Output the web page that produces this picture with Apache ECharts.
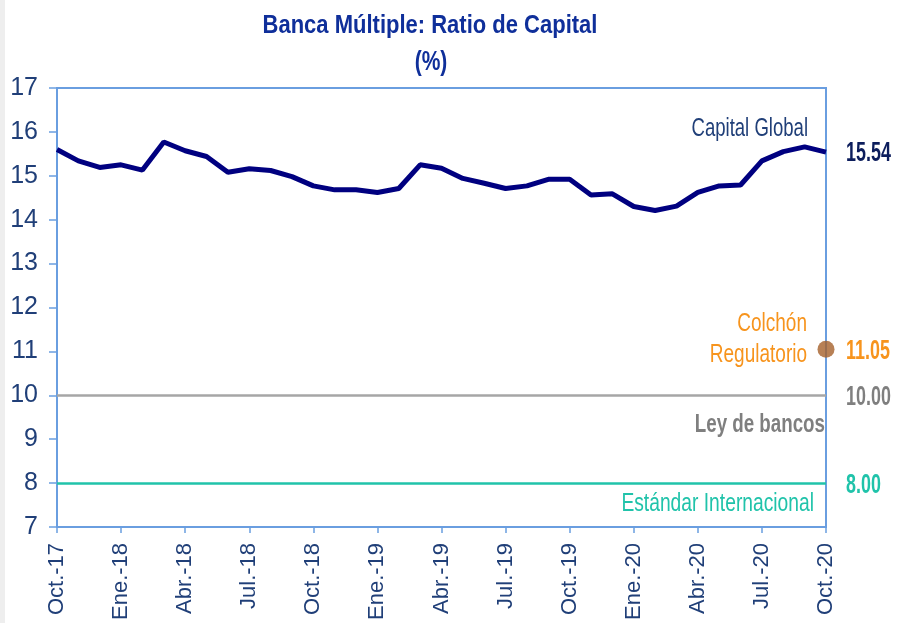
<!DOCTYPE html>
<html>
<head>
<meta charset="utf-8">
<script src="https://cdn.jsdelivr.net/npm/echarts@6/dist/echarts.min.js"></script>
<style>
html,body{margin:0;padding:0;background:#fff;}
#c{width:897px;height:623px;}
</style>
</head>
<body>
<div id="c"></div>
<script>
const categories = ['Oct.-17','Nov.-17','Dic.-17','Ene.-18','Feb.-18','Mar.-18','Abr.-18','May.-18','Jun.-18','Jul.-18','Ago.-18','Sep.-18',
  'Oct.-18','Nov.-18','Dic.-18','Ene.-19','Feb.-19','Mar.-19','Abr.-19','May.-19','Jun.-19','Jul.-19','Ago.-19','Sep.-19',
  'Oct.-19','Nov.-19','Dic.-19','Ene.-20','Feb.-20','Mar.-20','Abr.-20','May.-20','Jun.-20','Jul.-20','Ago.-20','Sep.-20','Oct.-20'];
const capitalGlobal = [15.60,15.34,15.19,15.25,15.13,15.77,15.57,15.44,15.08,15.16,15.12,14.98,
  14.77,14.68,14.68,14.62,14.71,15.25,15.17,14.94,14.83,14.71,14.77,14.92,
  14.92,14.56,14.59,14.30,14.21,14.31,14.62,14.77,14.79,15.34,15.55,15.66,15.54];
const colchonRegulatorio = 11.05;
const leyDeBancos = 10.00;
const estandarInternacional = 8.00;
const yTicks = [7,8,9,10,11,12,13,14,15,16,17];

const sans = '"Liberation Sans", Arial, sans-serif';
const axisBlue = '#6a9ee0';
const labelBlue = '#203f78';
const orange = '#f7941d';
const gray = '#7f7f7f';
const teal = '#20c3aa';

const chart = echarts.init(document.getElementById('c'));
chart.setOption({
  animation: false,
  backgroundColor: '#ffffff',
  grid: { left: 57, right: 71, top: 88, bottom: 96, show: true, borderColor: axisBlue, borderWidth: 2, backgroundColor: 'transparent' },
  xAxis: {
    type: 'category', data: categories, boundaryGap: false,
    axisLine: { lineStyle: { color: axisBlue, width: 2 } },
    axisTick: { show: true, interval: 2, length: 6, lineStyle: { color: axisBlue, width: 1.5 } },
    axisLabel: { interval: 2, rotate: 90, margin: 16, color: labelBlue, fontSize: 22, fontFamily: sans },
    splitLine: { show: false }
  },
  yAxis: {
    type: 'value', min: yTicks[0], max: yTicks[yTicks.length-1], interval: 1,
    axisLine: { show: true, lineStyle: { color: axisBlue, width: 2 } },
    axisTick: { show: true, length: 8, lineStyle: { color: axisBlue, width: 1.5 } },
    axisLabel: { margin: 19, color: labelBlue, fontSize: 25, fontFamily: sans },
    splitLine: { show: false }
  },
  series: [
    {
      name: 'Capital Global', type: 'line', data: capitalGlobal, symbol: 'none',
      lineStyle: { color: '#000080', width: 5 }, itemStyle: { color: '#000080' },
      markLine: {
        silent: true, symbol: ['none','none'], label: { show: false },
        data: [
          { yAxis: leyDeBancos, lineStyle: { color: '#a6a6a6', width: 2.5, type: 'solid' } },
          { yAxis: estandarInternacional, lineStyle: { color: teal, width: 2.5, type: 'solid' } }
        ]
      },
      z: 3
    },
    {
      name: 'Colchón Regulatorio', type: 'scatter',
      data: [[categories[categories.length-1], colchonRegulatorio]],
      symbolSize: 17, itemStyle: { color: '#a5602a' },
      z: 4
    }
  ]
});

const lastCat = categories[categories.length-1];
const px = v => chart.convertToPixel({ gridIndex: 0 }, [lastCat, v]);
const pEnd = px(capitalGlobal[capitalGlobal.length-1]);
const pCol = px(colchonRegulatorio);
const pLey = px(leyDeBancos);
const pEst = px(estandarInternacional);

function valueText(p, v, color, dy) {
  return { type: 'text', x: p[0] + 20, y: p[1] + dy, scaleX: 0.64, silent: true,
    style: { text: v.toFixed(2), align: 'left', verticalAlign: 'middle',
      font: 'bold 28px ' + sans, fill: color } };
}

chart.setOption({
  graphic: [
    { type: 'rect', shape: { x: 0, y: 0, width: 5, height: 623 }, style: { fill: '#eeeeee' }, silent: true },
    { type: 'text', x: 430, y: 26, scaleX: 0.846, silent: true,
      style: { text: 'Banca Múltiple: Ratio de Capital', align: 'center', verticalAlign: 'middle',
        font: 'bold 26px ' + sans, fill: '#0f2f9a' } },
    { type: 'text', x: 431, y: 62, scaleX: 0.75, silent: true,
      style: { text: '(%)', align: 'center', verticalAlign: 'middle',
        font: 'bold 28px ' + sans, fill: '#0f2f9a' } },
    { type: 'text', x: 808, y: 129, scaleX: 0.742, silent: true,
      style: { text: 'Capital Global', align: 'right', verticalAlign: 'middle',
        font: '25px ' + sans, fill: '#203f78' } },
    { type: 'text', x: 807, y: 340, scaleX: 0.76, silent: true,
      style: { text: 'Colchón\nRegulatorio', align: 'right', verticalAlign: 'middle',
        font: '25px ' + sans, fill: orange, lineHeight: 31 } },
    { type: 'text', x: 825, y: 425, scaleX: 0.75, silent: true,
      style: { text: 'Ley de bancos', align: 'right', verticalAlign: 'middle',
        font: 'bold 25px ' + sans, fill: gray } },
    { type: 'text', x: 814, y: 504, scaleX: 0.77, silent: true,
      style: { text: 'Estándar Internacional', align: 'right', verticalAlign: 'middle',
        font: '25px ' + sans, fill: teal } },
    valueText(pEnd, capitalGlobal[capitalGlobal.length-1], '#0c1d5c', 1),
    valueText(pCol, colchonRegulatorio, orange, 2),
    valueText(pLey, leyDeBancos, gray, 2),
    valueText(pEst, estandarInternacional, teal, 2)
  ]
});
</script>
</body>
</html>
